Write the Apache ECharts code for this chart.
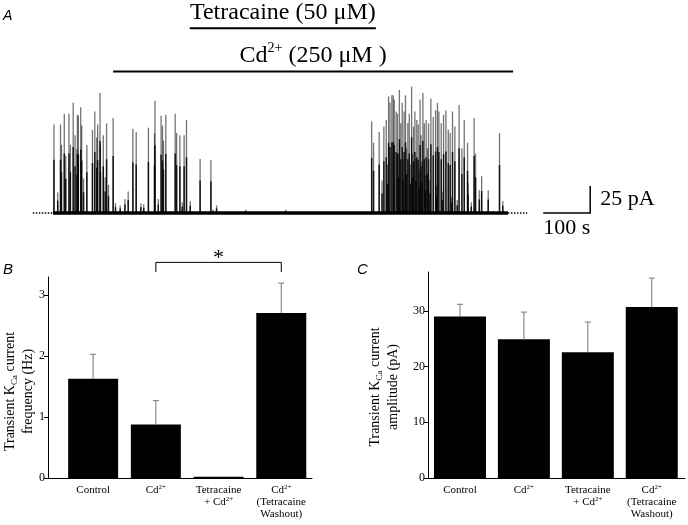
<!DOCTYPE html>
<html><head><meta charset="utf-8">
<script src="https://cdn.jsdelivr.net/npm/echarts@6/dist/echarts.min.js"></script>
<style>html,body{margin:0;padding:0;background:#fff}#c{width:688px;height:525px}</style>
</head><body><div id="c"></div>
<script>
// ---------- Panel A: trace (time in s, amplitude in pA) ----------
const traceStart = 0;
const traceEnd = 968;
const spikeTimes = [2,10,16,18,24,27,34,37,43,47,52,51,54,59,61,65,72,84,89,93,95,100,101,107,111,114,118,128,133,143,153,160,170,177,187,193,203,217,216,224,230,233,235,240,260,263,270,275,279,284,292,313,336,341,348,410,495,
  678,682,694,704,709,714,717,721,724,726,730,733,737,740,743,747,750,755,758,763,767,770,774,777,781,783,787,790,794,799,804,809,814,818,821,826,831,836,841,845,850,855,864,870,875,882,883,896,899,907,912,926,950,957,
  700,712,735,745,752,760,765,772,779,785,792,797,802,816,828,848,860,890];
const spikeAmps = [82,19,82,63,92,53,92,63,102,72,91,59,90,98,81,32,63,77,94,70,82,111,63,72,33,83,26,88,9,7,13,20,78,75,9,8,79,104,74,13,90,81,67,91,92,74,72,10,72,86,11,50,49,3,7,3,3,
  85,65,75,80,86,108,102,109,109,105,94,92,114,83,102,94,109,83,92,117,80,94,86,82,105,72,111,83,86,83,106,89,95,102,94,83,91,95,77,74,94,80,100,60,86,65,28,88,55,21,34,21,74,11,
  30,45,55,50,60,45,55,50,40,48,35,60,30,25,20,15,12,10];
const tetracaineOn = [291, 687];
const cadmiumOn = [128, 979];
const drugNames = ['{n|Tetracaine (50 \u03bcM)}', '{n|Cd}{s|2+}{n| (250 \u03bcM )}'];
const scaleBarTime = 100;   // s
const scaleBarAmp = 25;     // pA
const scaleBarTimeLabel = '100 s';
const scaleBarAmpLabel = '25 pA';

// ---------- Panels B and C ----------
const categoryLabels = ['{t|Control}', '{t|Cd}{s|2+}', '{t|Tetracaine}\n{t|+ Cd}{s|2+}', '{t|Cd}{s|2+}\n{t|(Tetracaine}\n{t|Washout)}'];
const freqMean = [1.63, 0.88, 0.02, 2.71];
const freqErr  = [0.40, 0.39, 0.00, 0.49];
const ampMean  = [29.0, 24.9, 22.6, 30.7];
const ampErr   = [2.2, 4.9, 5.4, 5.2];
const freqTicks = [0, 1, 2, 3];
const ampTicks  = [0, 10, 20, 30];
const sigPair = [1, 3];
const sigMark = '*';

const SERIF = '"Liberation Serif", "Times New Roman", serif';
const chart = echarts.init(document.getElementById('c'), null, {renderer: 'canvas'});

const tickRich = {
  t: {fontFamily: SERIF, fontSize: 11, color: '#000', lineHeight: 12},
  s: {fontFamily: SERIF, fontSize: 7, color: '#000', lineHeight: 7, verticalAlign: 'top'}
};
const topRich = {
  n: {fontFamily: SERIF, fontSize: 24, color: '#000', lineHeight: 28},
  s: {fontFamily: SERIF, fontSize: 14, color: '#000', lineHeight: 14, verticalAlign: 'top'}
};
const nameRich = {
  n: {fontFamily: SERIF, fontSize: 14, color: '#000', lineHeight: 18},
  sub: {fontFamily: SERIF, fontSize: 9, color: '#000', lineHeight: 9, verticalAlign: 'bottom'}
};

function errRender(means, errs) {
  return function (params, api) {
    const i = params.dataIndex;
    if (!errs[i]) return null;
    const p0 = api.coord([i, means[i]]);
    const p1 = api.coord([i, means[i] + errs[i]]);
    return {type: 'group', children: [
      {type: 'line', shape: {x1: p0[0], y1: p0[1], x2: p1[0], y2: p1[1]}, style: {stroke: '#777', lineWidth: 1}},
      {type: 'line', shape: {x1: p1[0] - 3, y1: p1[1], x2: p1[0] + 3, y2: p1[1]}, style: {stroke: '#777', lineWidth: 1}}
    ]};
  };
}

function barYAxis(grid, max, ticks, nameLines, gap, shift) {
  return {
    type: 'value', gridIndex: grid, min: 0, max: max,
    axisLine: {show: true, onZero: false, lineStyle: {color: '#000', width: 1}},
    axisTick: {show: true, length: 4, inside: false, customValues: ticks, lineStyle: {color: '#000'}},
    axisLabel: {customValues: ticks, fontFamily: SERIF, fontSize: 12, color: '#000', margin: 3},
    splitLine: {show: false},
    name: nameLines, nameLocation: 'middle', nameRotate: 90, nameGap: gap, nameMoveOverlap: false,
    nameTextStyle: {rich: nameRich, padding: [0, shift, 0, 0]}
  };
}
function barXAxis(grid, min, max) {
  return {
    type: 'value', gridIndex: grid, min: min, max: max,
    axisLine: {show: true, onZero: false, lineStyle: {color: '#000', width: 1}},
    axisTick: {show: false},
    splitLine: {show: false},
    axisLabel: {customValues: [0, 1, 2, 3], formatter: v => categoryLabels[Math.round(v)] || '', rich: tickRich, margin: 6, align: 'center'}
  };
}

const option = {
  animation: false,
  backgroundColor: '#fff',
  grid: [
    {left: 29.5, top: 83.4, width: 564, height: 151.2, outerBoundsMode: 'none'},
    {left: 48, top: 277, width: 264, height: 201, outerBoundsMode: 'none'},
    {left: 428, top: 272, width: 257, height: 206, outerBoundsMode: 'none'}
  ],
  xAxis: [
    {type: 'value', gridIndex: 0, min: -50, max: 1150, show: false},
    barXAxis(1, -0.72, 3.49),
    barXAxis(2, -0.5, 3.52)
  ],
  yAxis: [
    {type: 'value', gridIndex: 0, min: -20, max: 120, show: false},
    barYAxis(1, 3.3, freqTicks, '{n|Transient K}{sub|Ca}{n| current}\n{n|frequency (Hz)}', 11, 28),
    barYAxis(2, 37, ampTicks, '{n|Transient K}{sub|Ca}{n| current}\n{n|amplitude (pA)}', 26, 24)
  ],
  graphic: [
    {type: 'text', x: 3, y: 9, style: {text: 'A', font: 'italic 14px "Liberation Sans", Arial, sans-serif', fill: '#000'}},
    {type: 'text', x: 3, y: 262, style: {text: 'B', font: 'italic 15px "Liberation Sans", Arial, sans-serif', fill: '#000'}},
    {type: 'text', x: 357, y: 262, style: {text: 'C', font: 'italic 15px "Liberation Sans", Arial, sans-serif', fill: '#000'}}
  ],
  series: [
    // dotted baseline extensions
    {type: 'line', xAxisIndex: 0, yAxisIndex: 0, data: [[traceStart - 43, 0], [traceStart, 0]], symbol: 'none', silent: true,
      lineStyle: {color: '#000', width: 1.5, type: [1.5, 1.5]}},
    {type: 'line', xAxisIndex: 0, yAxisIndex: 0, data: [[traceEnd, 0], [traceEnd + 41, 0]], symbol: 'none', silent: true,
      lineStyle: {color: '#000', width: 1.5, type: [1.5, 1.5]}},
    // spikes
    {type: 'custom', xAxisIndex: 0, yAxisIndex: 0, clip: false, silent: true,
      data: spikeTimes.map((t, i) => [t, spikeAmps[i]]),
      renderItem(params, api) {
        const t = api.value(0), a = api.value(1);
        const p0 = api.coord([t, 0]), p1 = api.coord([t, a]), pm = api.coord([t, a * 0.6]);
        return {type: 'group', children: [
          {type: 'line', shape: {x1: p0[0], y1: p0[1], x2: p1[0], y2: p1[1]}, style: {stroke: 'rgba(0,0,0,0.55)', lineWidth: 1.3}},
          {type: 'line', shape: {x1: p0[0], y1: p0[1], x2: pm[0], y2: pm[1]}, style: {stroke: 'rgba(0,0,0,0.85)', lineWidth: 1.5}}
        ]};
      }},
    // baseline
    {type: 'line', xAxisIndex: 0, yAxisIndex: 0, data: [[traceStart, 0], [traceEnd, 0]], symbol: 'none', silent: true,
      lineStyle: {color: '#000', width: 3.5}},
    // drug application bars
    {type: 'custom', xAxisIndex: 0, yAxisIndex: 0, clip: false, silent: true,
      data: [[tetracaineOn[0], tetracaineOn[1], 171], [cadmiumOn[0], cadmiumOn[1], 131]],
      renderItem(params, api) {
        const a = api.coord([api.value(0), api.value(2)]), b = api.coord([api.value(1), api.value(2)]);
        return {type: 'group', children: [
          {type: 'line', shape: {x1: a[0], y1: a[1], x2: b[0], y2: b[1]}, style: {stroke: '#000', lineWidth: 2}},
          {type: 'text', style: {text: drugNames[params.dataIndex], x: (a[0] + b[0]) / 2, y: a[1] - 2,
            align: 'center', verticalAlign: 'bottom', textAlign: 'center', textVerticalAlign: 'bottom', rich: topRich, fill: '#000'}}
        ]};
      }},
    // scale bar
    {type: 'custom', xAxisIndex: 0, yAxisIndex: 0, clip: false, silent: true,
      data: [[1143, 0]],
      renderItem(params, api) {
        const t = api.value(0), base = api.value(1);
        const c = api.coord([t, base]), top = api.coord([t, base + scaleBarAmp]), left = api.coord([t - scaleBarTime, base]);
        return {type: 'group', children: [
          {type: 'polyline', shape: {points: [top, c, left]}, style: {stroke: '#000', lineWidth: 1.5, fill: null}},
          {type: 'text', style: {text: scaleBarAmpLabel, x: c[0] + 10, y: (c[1] + top[1]) / 2, align: 'left', verticalAlign: 'middle',
            textAlign: 'left', textVerticalAlign: 'middle', font: '22px ' + SERIF, fill: '#000'}},
          {type: 'text', style: {text: scaleBarTimeLabel, x: (c[0] + left[0]) / 2, y: c[1] + 4, align: 'center', verticalAlign: 'top',
            textAlign: 'center', textVerticalAlign: 'top', font: '22px ' + SERIF, fill: '#000'}}
        ]};
      }},
    // Panel B
    {type: 'bar', xAxisIndex: 1, yAxisIndex: 1, barWidth: 50, data: freqMean.map((v, i) => [i, v]),
      itemStyle: {color: '#000'}, silent: true},
    {type: 'custom', xAxisIndex: 1, yAxisIndex: 1, clip: false, silent: true, z: 3,
      data: freqMean.map((v, i) => [i, v + freqErr[i]]), renderItem: errRender(freqMean, freqErr)},
    {type: 'custom', xAxisIndex: 1, yAxisIndex: 1, clip: false, silent: true,
      data: [[sigPair[0], sigPair[1]]],
      renderItem(params, api) {
        const a = api.coord([api.value(0), 3.54]), b = api.coord([api.value(1), 3.54]);
        const a2 = api.coord([api.value(0), 3.38]), b2 = api.coord([api.value(1), 3.38]);
        return {type: 'group', children: [
          {type: 'polyline', shape: {points: [a2, a, b, b2]}, style: {stroke: '#000', lineWidth: 1, fill: null}},
          {type: 'text', style: {text: sigMark, x: (a[0] + b[0]) / 2, y: a[1] + 7, align: 'center', verticalAlign: 'bottom',
            textAlign: 'center', textVerticalAlign: 'bottom', font: '22px ' + SERIF, fill: '#000'}}
        ]};
      }},
    // Panel C
    {type: 'bar', xAxisIndex: 2, yAxisIndex: 2, barWidth: 52, data: ampMean.map((v, i) => [i, v]),
      itemStyle: {color: '#000'}, silent: true},
    {type: 'custom', xAxisIndex: 2, yAxisIndex: 2, clip: false, silent: true, z: 3,
      data: ampMean.map((v, i) => [i, v + ampErr[i]]), renderItem: errRender(ampMean, ampErr)}
  ]
};
chart.setOption(option);
</script></body></html>
